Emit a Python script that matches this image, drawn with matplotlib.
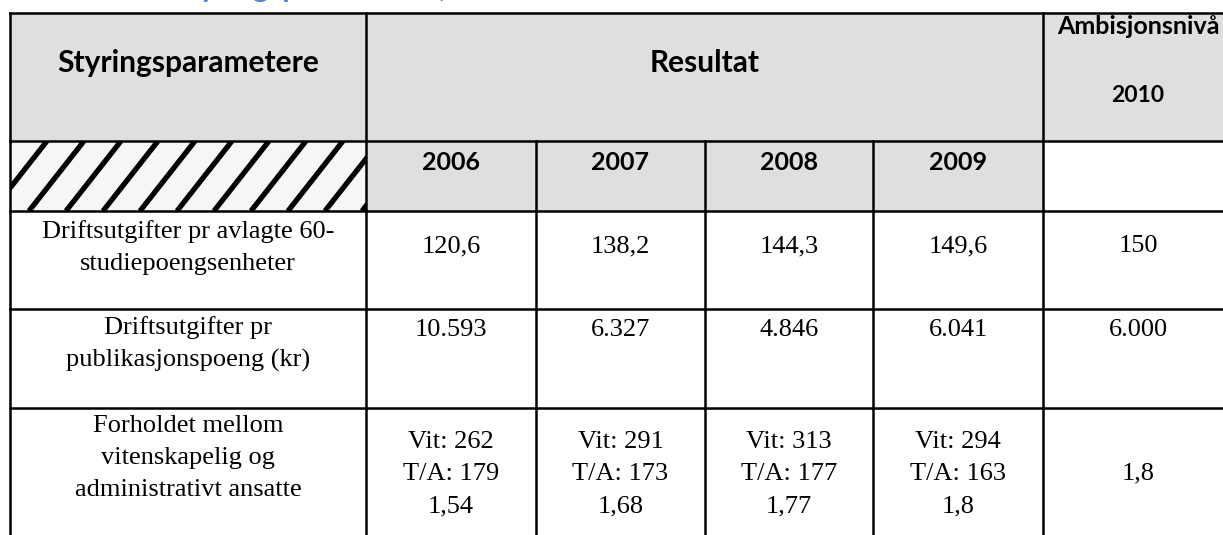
import matplotlib.pyplot as plt
import numpy as np
from matplotlib.patches import Rectangle

# table content
title = "Styringsparametere,"
head_param = "Styringsparametere"
head_result = "Resultat"
head_goal = ["Ambisjonsnivå", "2010"]
years = ["2006", "2007", "2008", "2009"]

row_labels = [
    ["Driftsutgifter pr avlagte 60-", "studiepoengsenheter"],
    ["Driftsutgifter pr", "publikasjonspoeng (kr)"],
    ["Forholdet mellom", "vitenskapelig og", "administrativt ansatte"],
]
row_values = [
    [["120,6"], ["138,2"], ["144,3"], ["149,6"]],
    [["10.593"], ["6.327"], ["4.846"], ["6.041"]],
    [["Vit: 262", "T/A: 179", "1,54"], ["Vit: 291", "T/A: 173", "1,68"],
     ["Vit: 313", "T/A: 177", "1,77"], ["Vit: 294", "T/A: 163", "1,8"]],
]
row_goal = ["150", "6.000", "1,8"]

# layout (pixels)
W, H = 1223, 535
xs = [10, 366, 536, 705, 873, 1043, 1233]
ys = [13, 141, 211, 309, 408, 545]
label_y = [232, 328, 426]
value_y = [246, 330, 442]
goal_y = [246, 330, 473]
lh = 32

gray = "#dfdfdf"
blue = "#4f86cf"
sans = "Lato"
serif = "Liberation Serif"

fig = plt.figure(figsize=(W / 100, H / 100), dpi=100)
ax = fig.add_axes([0, 0, 1, 1])
ax.set_xlim(0, W)
ax.set_ylim(H, 0)
ax.axis("off")

def cell(x0, x1, y0, y1, color):
    ax.add_patch(Rectangle((x0, y0), x1 - x0, y1 - y0, facecolor=color,
                           edgecolor="none", zorder=1))

# backgrounds
cell(xs[0], xs[-1], ys[0], ys[1], gray)
cell(xs[1], xs[5], ys[1], ys[2], gray)
cell(xs[0], xs[1], ys[1], ys[2], "#f6f6f6")

# hatched cell
clip = Rectangle((xs[0], ys[1]), xs[1] - xs[0], ys[2] - ys[1], transform=ax.transData)
for x0 in np.arange(xs[0] - 55, xs[1] + 10, 37):
    ln, = ax.plot([x0, x0 + 55], [ys[2], ys[1]], color="black", lw=3.8,
                  solid_capstyle="butt", zorder=2)
    ln.set_clip_path(clip)

# grid lines
lw = 1.8
for y in ys[:-1]:
    ax.plot([xs[0], xs[-1]], [y, y], color="black", lw=lw, zorder=3)
for i, x in enumerate(xs[:-1]):
    if i in (2, 3, 4):
        ax.plot([x, x], [ys[1], ys[-1]], color="black", lw=lw, zorder=3)
    else:
        ax.plot([x, x], [ys[0], ys[-1]], color="black", lw=lw, zorder=3)

cx = [(xs[i] + xs[i + 1]) / 2 for i in range(len(xs) - 1)]

# title (clipped at top)
ax.text(172, -2.5, title, color=blue, fontsize=22, fontweight="bold",
        family=sans, ha="left", va="baseline")

# headers
hs = 21.5
ax.text(cx[0], 63, head_param, fontsize=hs, fontweight="bold", family=sans,
        ha="center", va="center", zorder=4)
ax.text((xs[1] + xs[5]) / 2, 63, head_result, fontsize=hs, fontweight="bold",
        family=sans, ha="center", va="center", zorder=4)
ax.text(1138, 27, head_goal[0], fontsize=18, fontweight="bold", family=sans,
        ha="center", va="center", zorder=4)
ax.text(1138, 95, head_goal[1], fontsize=16.5, fontweight="bold", family=sans,
        ha="center", va="center", zorder=4)
for j, yr in enumerate(years):
    ax.text(cx[j + 1], 163, yr, fontsize=18, fontweight="bold", family=sans,
            ha="center", va="center", zorder=4)

# body
fs = 19
def lines(x, y_top, txts):
    for k, t in enumerate(txts):
        ax.text(x, y_top + k * lh, t, fontsize=fs, family=serif,
                ha="center", va="center", zorder=4)

for r in range(len(row_labels)):
    lines(cx[0], label_y[r], row_labels[r])
    for j, v in enumerate(row_values[r]):
        lines(cx[j + 1], value_y[r], v)
    lines(1138, goal_y[r], [row_goal[r]])

fig.savefig("out.png", dpi=100)
